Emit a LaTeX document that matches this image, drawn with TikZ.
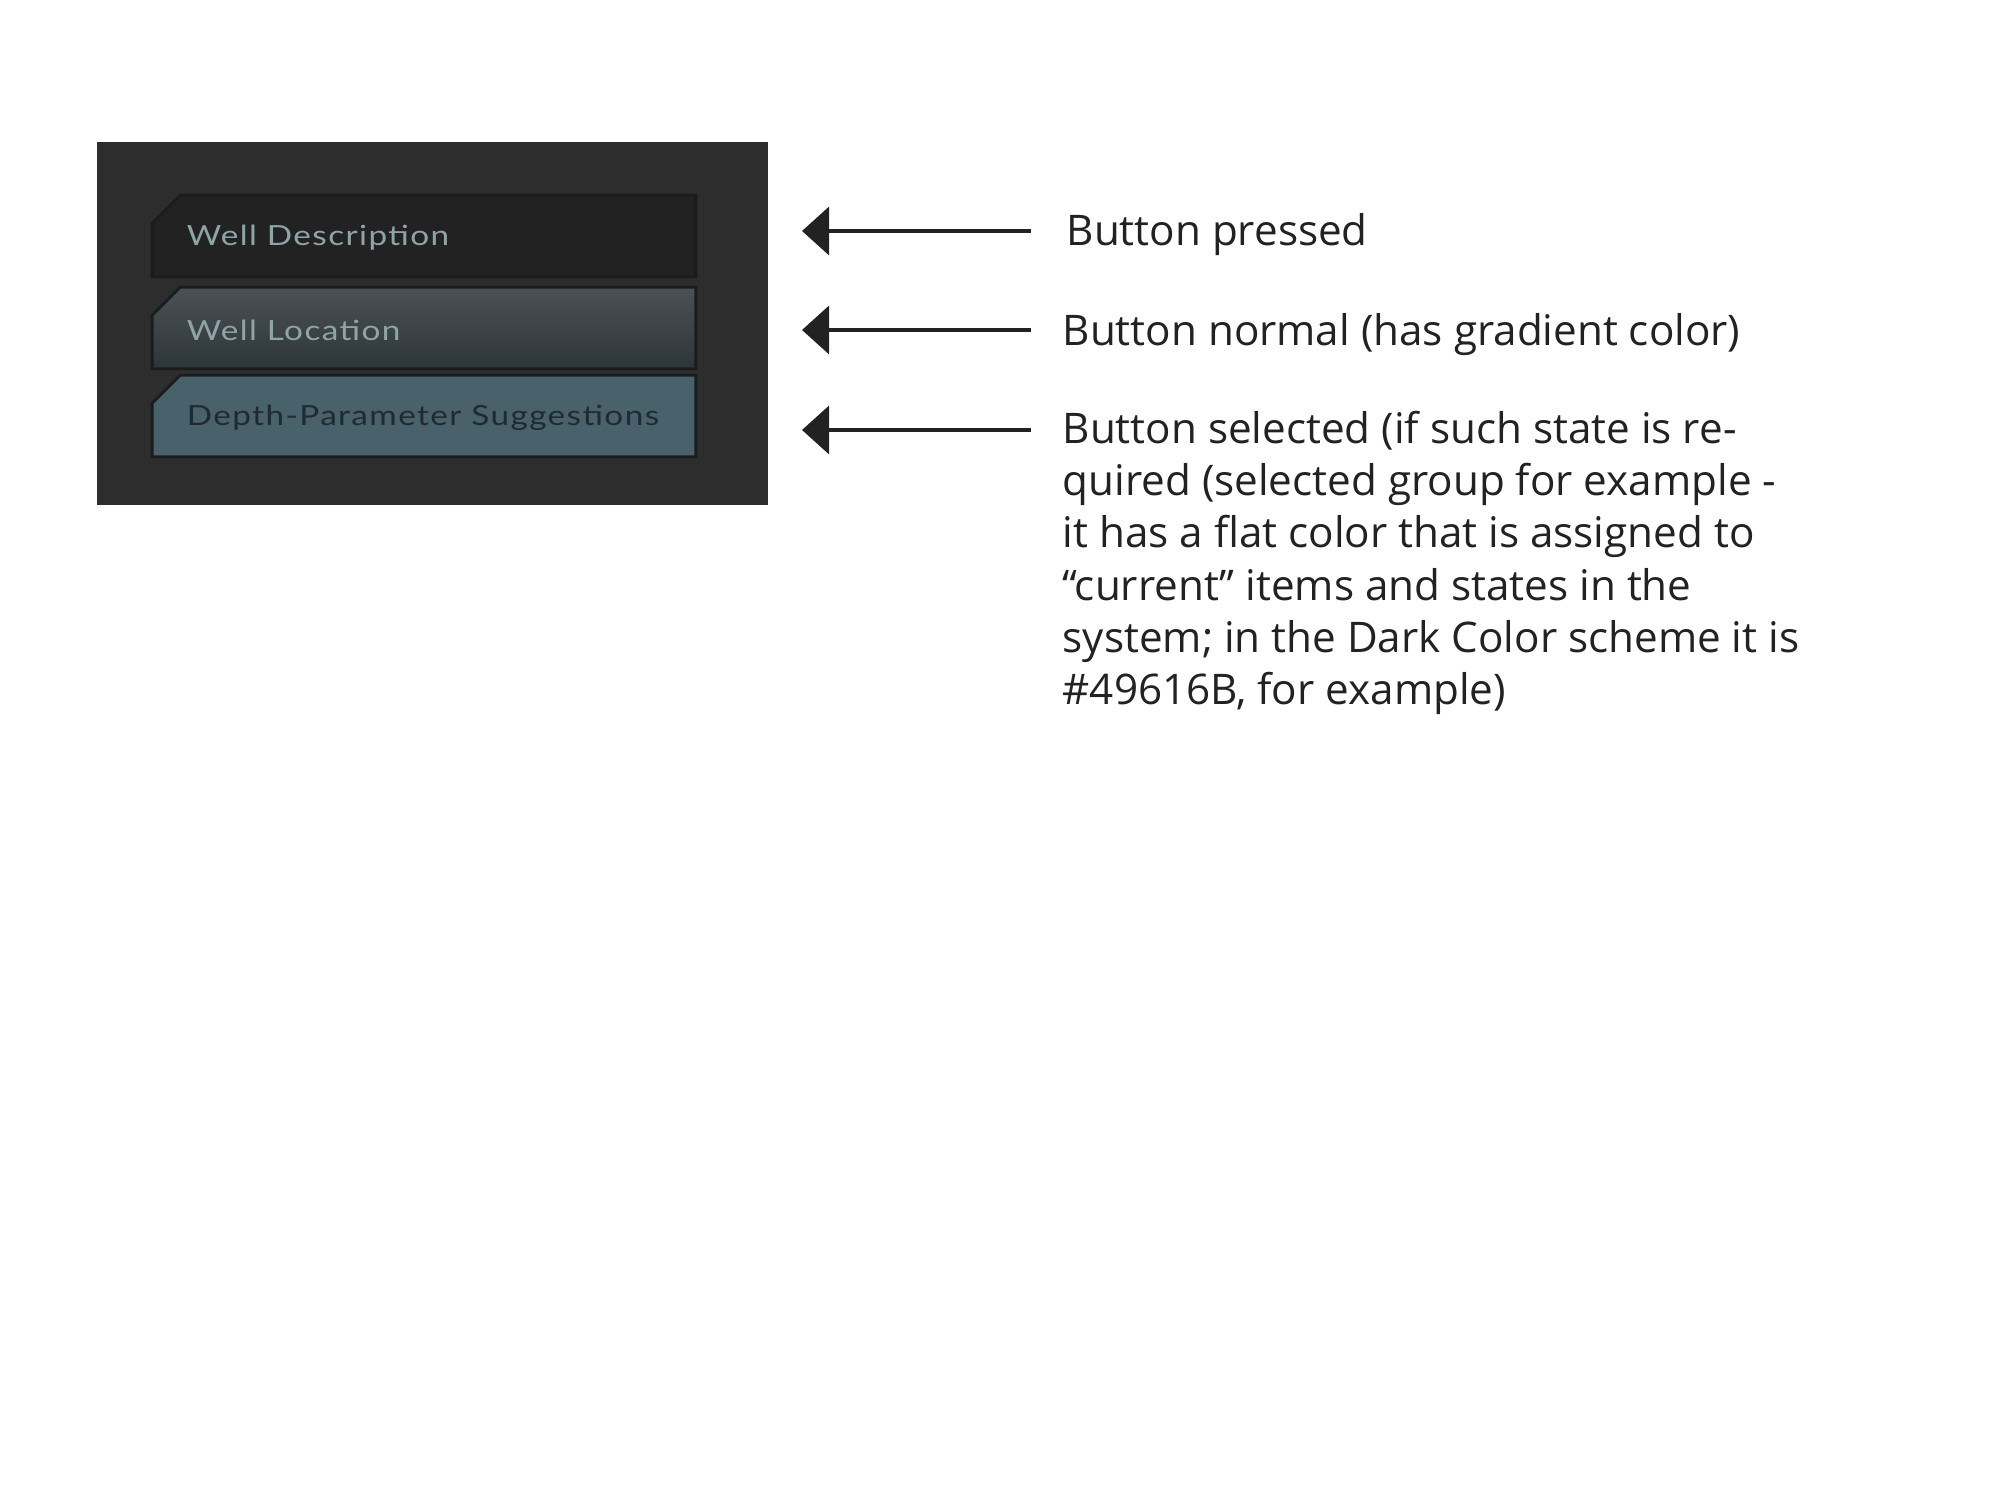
\documentclass[tikz,border=0pt]{standalone}
\usepackage{fontspec}
\setmainfont{Open Sans}
\newfontfamily\btnfont[LetterSpace=5,FakeStretch=1.2]{Lato}
\usepackage{tikz}
\usetikzlibrary{shapes,positioning,arrows.meta,backgrounds}

\definecolor{panelgray}{HTML}{2D2D2D}
\definecolor{pressedfill}{HTML}{222222}
\definecolor{edgedark}{HTML}{1A1C1D}
\definecolor{normaltop}{HTML}{4A5257}
\definecolor{normalmid}{HTML}{3C4449}
\definecolor{normalbot}{HTML}{2E3538}
\definecolor{selectfill}{HTML}{49616B}
\definecolor{lighttext}{HTML}{8FA4A6}
\definecolor{darktext}{HTML}{1F2B31}
\definecolor{notetext}{HTML}{222222}

% outline of a tab with its top left corner cut off
\newcommand{\tabpath}[1]{(#1.south west) -- ([yshift=-0.28cm]#1.north west) -- ([xshift=0.28cm]#1.north west) -- (#1.north east) -- (#1.south east) -- cycle}

\begin{document}
\begin{tikzpicture}[x=0.01cm,y=-0.01cm]
        %
        % `button' is the place of a tab, `tabline' its outline, `btntext' its caption.
        % `pointer' is used for the arrows, `note' for the explanations.
        \tikzstyle{button} = [rectangle,minimum width=5.42cm,minimum height=0.8cm,inner sep=0pt]
        \tikzstyle{tabline} = [draw=edgedark,line width=0.8pt]
        \tikzstyle{btntext} = [anchor=west,inner sep=0pt,font=\btnfont\fontsize{7.9}{9}\selectfont]
        \tikzstyle{pointer} = [draw=notetext,line width=0.95pt,-{Triangle[length=0.27cm,width=0.48cm]}]
        \tikzstyle{note} = [anchor=base west,inner sep=0pt,align=left,text=notetext,font=\fontsize{12}{14.9}\selectfont]
        \useasboundingbox (0,0) rectangle (2000,1492);
        %
        % Panel
        \fill[panelgray] (97,142) rectangle (768,505);
        %
        % Buttons
        \node[button] (bpressed) at (424,236) {};
        \node[button] (bnormal) at (424,328) {};
        \node[button] (bselected) at (424,416) {};
        \path[tabline,fill=pressedfill] \tabpath{bpressed};
        \path[tabline,top color=normaltop,bottom color=normalbot,middle color=normalmid] \tabpath{bnormal};
        \path[tabline,fill=selectfill] \tabpath{bselected};
        \node[btntext,text=lighttext] (tpressed) at ([xshift=0.34cm,yshift=-0.02cm]bpressed.west) {Well Description};
        \node[btntext,text=lighttext] (tnormal) at ([xshift=0.34cm,yshift=-0.02cm]bnormal.west) {Well Location};
        \node[btntext,text=darktext] (tselected) at ([xshift=0.34cm,yshift=-0.02cm]bselected.west) {Depth-Parameter Suggestions};
        %
        % Notes
        \node[note] (npressed) at (1066,246) {Button pressed};
        \node[note] (nnormal) at (1062,346) {Button normal (has gradient color)};
        \node[note] (nselected) at (1062,705) {Button selected (if such state is re-\\quired (selected group for example -\\it has a flat color that is assigned to\\“current” items and states in the\\system; in the Dark Color scheme it is\\\#49616B, for example)};
        %
        % Arrows
        \coordinate (apressed) at (802,231);
        \coordinate (anormal) at (802,330);
        \coordinate (aselected) at (802,430);
        \coordinate (lpressed) at (1031,231);
        \coordinate (lnormal) at (1031,330);
        \coordinate (lselected) at (1031,430);
        \draw[pointer] (lpressed) -- (apressed);
        \draw[pointer] (lnormal) -- (anormal);
        \draw[pointer] (lselected) -- (aselected);
        %
    \end{tikzpicture}
\end{document}
